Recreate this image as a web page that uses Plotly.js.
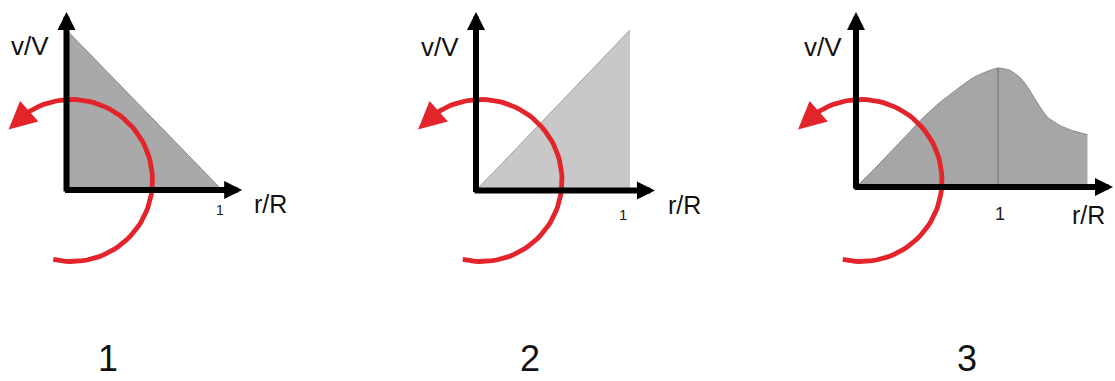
<!DOCTYPE html>
<html>
<head>
<meta charset="utf-8">
<script src="https://cdn.plot.ly/plotly-3.0.1.min.js"></script>
<style>
  html, body { margin: 0; padding: 0; background: #ffffff; }
  #chart { width: 1115px; height: 381px; }
</style>
</head>
<body>
<div id="chart"></div>
<script>
// Velocity profiles v/V against r/R for the three rotating flow cases
const prof1R = [0, 1];
const prof1V = [1, 0];

const prof2R = [0, 1];
const prof2V = [0, 1];

const prof3R = [0, 0.12, 0.24, 0.36, 0.47, 0.59, 0.71, 0.82, 0.92, 1, 1.085, 1.155, 1.2, 1.25, 1.3, 1.35, 1.44, 1.53, 1.63];
const prof3V = [0, 0.14, 0.29, 0.44, 0.58, 0.71, 0.82, 0.915, 0.97, 1, 0.98, 0.92, 0.855, 0.76, 0.665, 0.585, 0.515, 0.472, 0.44];

const panelCaptions = ['1', '2', '3'];
const tickText = '1';
const xLabel = 'r/R';
const yLabel = 'v/V';

const W = 1115, H = 381;
const FONT = 'Liberation Sans, Arial, Helvetica, sans-serif';
const RED = '#e3242a';

// Pixel frame of each panel: origin, pixels per unit, axis extents, styling
const panels = [
  { r: prof1R, v: prof1V, dom: [0, 365], ox: 66.5, oy: 190, sx: 155.5, sy: 160,
    rMax: 1.13, vMax: 1.112, fill: '#a9a9a9', edge: '#8a8a8a',
    yLab: [30, 46], xLab: [270, 204], tick: [220, 210, 14], cap: 108 },
  { r: prof2R, v: prof2V, dom: [380, 760], ox: 476, oy: 190.5, sx: 154, sy: 160.5,
    rMax: 1.162, vMax: 1.112, fill: '#c8c8c8', edge: '#a0a0a0',
    yLab: [440, 47], xLab: [684, 205], tick: [623, 214, 15], cap: 530 },
  { r: prof3R, v: prof3V, dom: [770, 1115], ox: 856, oy: 187, sx: 142, sy: 119,
    rMax: 1.81, vMax: 1.47, fill: '#a6a6a6', edge: '#8a8a8a',
    yLab: [823, 47], xLab: [1088, 215], tick: [1000, 214, 18], cap: 967 }
];

const traces = [];
const annotations = [];
const layout = {
  width: W, height: H,
  margin: { l: 0, r: 0, t: 0, b: 0, pad: 0 },
  paper_bgcolor: '#ffffff',
  plot_bgcolor: 'rgba(0,0,0,0)',
  showlegend: false,
  annotations: annotations
};

// Rotation symbol: circular arc around the axis, drawn in the panel's data units
function rotationArc(p) {
  const cx = p.ox + 5, cy = 180.5, R = 81;
  const xs = [], ys = [];
  for (let a = 103; a >= -124; a -= 3) {
    const t = a * Math.PI / 180;
    xs.push((cx + R * Math.cos(t) - p.ox) / p.sx);
    ys.push((p.oy - (cy + R * Math.sin(t))) / p.sy);
  }
  const tt = -141 * Math.PI / 180;
  const tip = [(cx + R * Math.cos(tt) - p.ox) / p.sx, (p.oy - (cy + R * Math.sin(tt))) / p.sy];
  return { xs, ys, tip };
}

panels.forEach((p, i) => {
  const xa = i === 0 ? 'x' : 'x' + (i + 1);
  const ya = i === 0 ? 'y' : 'y' + (i + 1);
  const xKey = i === 0 ? 'xaxis' : 'xaxis' + (i + 1);
  const yKey = i === 0 ? 'yaxis' : 'yaxis' + (i + 1);

  layout[xKey] = {
    domain: [p.dom[0] / W, p.dom[1] / W],
    range: [(p.dom[0] - p.ox) / p.sx, (p.dom[1] - p.ox) / p.sx],
    visible: false, fixedrange: true, anchor: ya
  };
  layout[yKey] = {
    domain: [0, 1],
    range: [(p.oy - H) / p.sy, p.oy / p.sy],
    visible: false, fixedrange: true, anchor: xa
  };

  // shaded velocity profile
  traces.push({
    x: p.r, y: p.v, xaxis: xa, yaxis: ya,
    type: 'scatter', mode: 'lines',
    line: { color: p.edge, width: 1, shape: i === 2 ? 'spline' : 'linear', smoothing: 0.5 },
    fill: 'tozeroy', fillcolor: p.fill, hoverinfo: 'skip'
  });

  if (i === 2) {
    // marker line at the peak r/R = 1
    const k = p.r.indexOf(1);
    traces.push({
      x: [p.r[k], p.r[k]], y: [0, p.v[k]], xaxis: xa, yaxis: ya,
      type: 'scatter', mode: 'lines',
      line: { color: '#6e6e6e', width: 1 }, hoverinfo: 'skip'
    });
  }

  // rotation arc
  const arc = rotationArc(p);
  traces.push({
    x: arc.xs, y: arc.ys, xaxis: xa, yaxis: ya,
    type: 'scatter', mode: 'lines',
    line: { color: RED, width: 4.8 }, hoverinfo: 'skip'
  });
  annotations.push({
    xref: xa, yref: ya, axref: xa, ayref: ya,
    x: arc.tip[0], y: arc.tip[1],
    ax: arc.xs[arc.xs.length - 1], ay: arc.ys[arc.ys.length - 1],
    text: '', showarrow: true, arrowhead: 2, arrowsize: 1.15, arrowwidth: 4.8,
    arrowcolor: RED, standoff: 0, startstandoff: 0
  });

  // coordinate axes with arrow heads
  annotations.push({
    xref: xa, yref: ya, axref: xa, ayref: ya,
    x: p.rMax, y: 0, ax: -3 / p.sx, ay: 0,
    text: '', showarrow: true, arrowhead: 2, arrowsize: 0.6, arrowwidth: 6,
    arrowcolor: '#000000', standoff: 0
  });
  annotations.push({
    xref: xa, yref: ya, axref: xa, ayref: ya,
    x: 0, y: p.vMax, ax: 0, ay: -3 / p.sy,
    text: '', showarrow: true, arrowhead: 2, arrowsize: 0.6, arrowwidth: 6,
    arrowcolor: '#000000', standoff: 0
  });

  // axis labels and tick
  annotations.push({
    xref: 'paper', yref: 'paper', x: p.yLab[0] / W, y: 1 - p.yLab[1] / H,
    xanchor: 'center', yanchor: 'middle', showarrow: false,
    text: yLabel, font: { family: FONT, size: 26, color: '#111111' }
  });
  annotations.push({
    xref: 'paper', yref: 'paper', x: p.xLab[0] / W, y: 1 - p.xLab[1] / H,
    xanchor: 'center', yanchor: 'middle', showarrow: false,
    text: xLabel, font: { family: FONT, size: 25, color: '#111111' }
  });
  annotations.push({
    xref: 'paper', yref: 'paper', x: p.tick[0] / W, y: 1 - p.tick[1] / H,
    xanchor: 'center', yanchor: 'middle', showarrow: false,
    text: tickText, font: { family: FONT, size: p.tick[2], color: '#222222' }
  });

  // panel caption, resting on the bottom edge
  annotations.push({
    xref: 'paper', yref: 'paper', x: p.cap / W, y: 0,
    xanchor: 'center', yanchor: 'bottom', showarrow: false,
    text: panelCaptions[i], font: { family: FONT, size: 36, color: '#111111' }
  });
});

Plotly.newPlot('chart', traces, layout, { staticPlot: true, displayModeBar: false });
</script>
</body>
</html>
